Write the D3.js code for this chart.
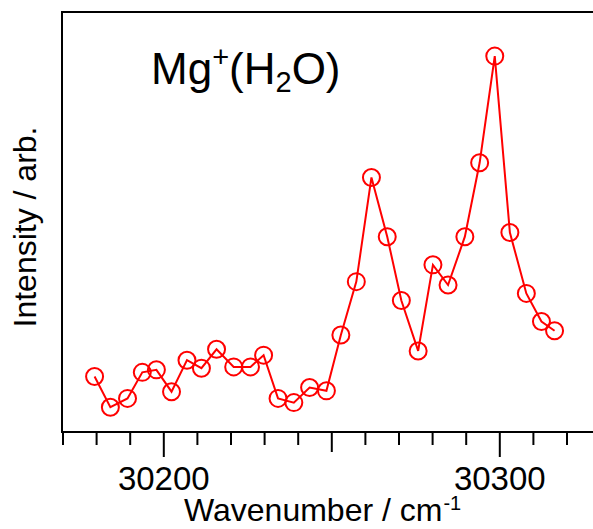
<!DOCTYPE html>
<html>
<head>
<meta charset="utf-8">
<script src="https://cdn.jsdelivr.net/npm/d3@7"></script>
<style>
  body { margin: 0; background: #fff; }
  svg { display: block; font-family: "Liberation Sans", Arial, sans-serif; }
</style>
</head>
<body>
<svg width="593" height="529"></svg>
<script>
// wavenumber (cm-1) and intensity (arb.)
const wavenumbers = [
    30179.4, 30184.1, 30189.2, 30193.6, 30197.8, 30202.3, 30206.9, 30211.2,
    30215.7, 30220.8, 30225.8, 30229.7, 30234.0, 30238.7, 30243.4, 30248.4,
    30252.7, 30257.3, 30261.8, 30266.5, 30270.7, 30275.7, 30280.1, 30284.6,
    30289.6, 30294.0, 30298.5, 30303.0, 30307.9, 30312.4, 30316.3
];
const intensities = [
    13.2, 5.9, 8.0, 14.2, 14.8, 9.6, 17.1, 15.2,
    19.7, 15.5, 15.5, 18.3, 8.0, 7.0, 10.6, 9.8,
    23.1, 35.8, 60.6, 46.5, 31.3, 19.3, 39.8, 35.0,
    46.5, 64.1, 89.5, 47.5, 33.0, 26.3, 24.1
];
const xDomain = [30170, 30330];
const yDomain = [0, 100];
const labelTicks = [30200, 30300];

const svg = d3.select("svg");

const plotLeft = 63, plotTop = 12, plotBottom = 432;

const x = d3.scaleLinear().domain(xDomain).range([plotLeft, 600.6]);
const y = d3.scaleLinear().domain(yDomain).range([plotBottom, plotTop]);

const data = wavenumbers.map((w, i) => ({ w, v: intensities[i] }));

// frame: left, top, bottom (runs off the right edge)
svg.append("path")
    .attr("d", `M${x.range()[1]},${plotTop}H${plotLeft - 1}V${plotBottom}H${x.range()[1]}`)
    .attr("fill", "none")
    .attr("stroke", "#000")
    .attr("stroke-width", 2);

// ticks every 10, longer at 50 and 100
const ticks = d3.range(xDomain[0], xDomain[1] + 1, 10);
svg.append("g")
    .selectAll("line")
    .data(ticks)
    .join("line")
    .attr("x1", d => x(d))
    .attr("x2", d => x(d))
    .attr("y1", plotBottom)
    .attr("y2", d => plotBottom + (d % 100 === 0 ? 25 : d % 50 === 0 ? 20 : 13))
    .attr("stroke", "#000")
    .attr("stroke-width", 2);

svg.append("g")
    .selectAll("text")
    .data(labelTicks)
    .join("text")
    .attr("x", d => x(d))
    .attr("y", 490)
    .attr("text-anchor", "middle")
    .attr("font-size", 33)
    .text(d => d);

const line = d3.line()
    .x(d => x(d.w))
    .y(d => y(d.v));

svg.append("path")
    .datum(data)
    .attr("d", line)
    .attr("fill", "none")
    .attr("stroke", "#ff0000")
    .attr("stroke-width", 2);

svg.append("g")
    .selectAll("circle")
    .data(data)
    .join("circle")
    .attr("cx", d => x(d.w))
    .attr("cy", d => y(d.v))
    .attr("r", 8.5)
    .attr("fill", "none")
    .attr("stroke", "#ff0000")
    .attr("stroke-width", 2);

// axis titles
const xl = svg.append("text")
    .attr("x", 184)
    .attr("y", 521)
    .attr("font-size", 32);
xl.append("tspan").text("Wavenumber / cm");
xl.append("tspan").attr("font-size", 20).attr("dx", 1).attr("dy", -11).text("-1");

svg.append("text")
    .attr("transform", "translate(36,227) rotate(-90)")
    .attr("text-anchor", "middle")
    .attr("font-size", 32)
    .text("Intensity / arb.");

// species label
const title = svg.append("text")
    .attr("x", 151)
    .attr("y", 84)
    .attr("font-size", 44);
title.append("tspan").text("Mg");
title.append("tspan").attr("font-size", 29).attr("dy", -17).text("+");
title.append("tspan").attr("dy", 17).text("(H");
title.append("tspan").attr("font-size", 29).attr("dy", 8).text("2");
title.append("tspan").attr("dy", -8).text("O)");
</script>
</body>
</html>
